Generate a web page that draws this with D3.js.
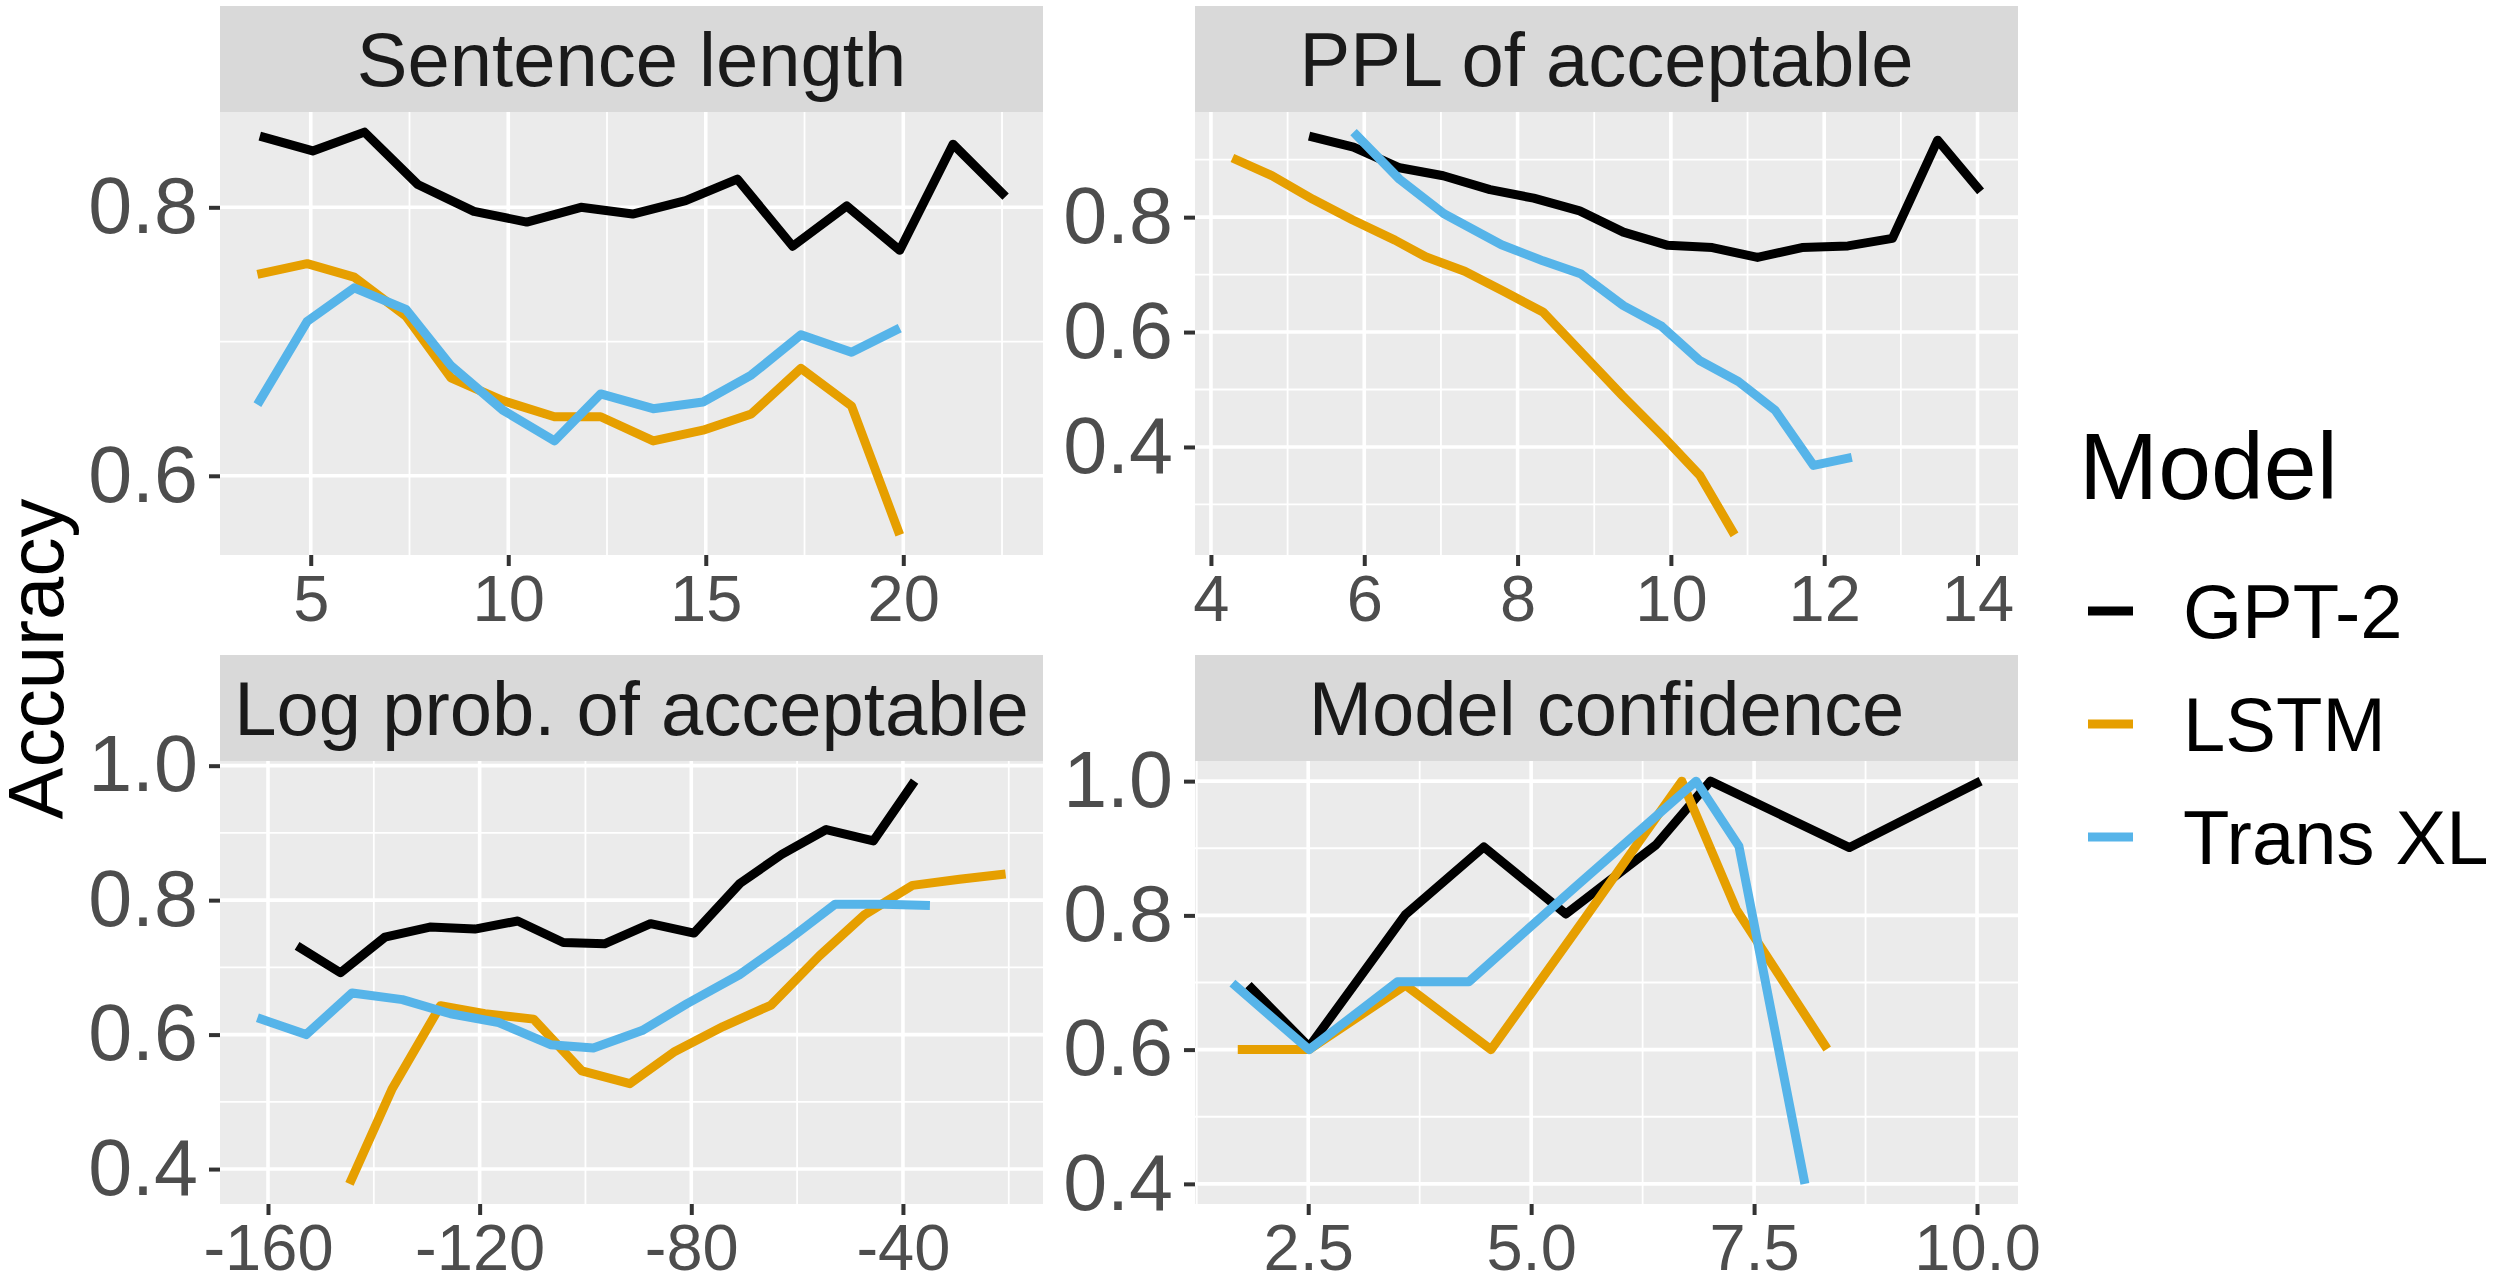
<!DOCTYPE html>
<html><head><meta charset="utf-8">
<script src="https://cdn.jsdelivr.net/npm/d3@7"></script>
<style>body{margin:0;background:#fff;} svg{display:block;}</style>
</head><body><svg id="chart" width="2500" height="1278"></svg>
<script>
// ---------- data ----------
const modelNames = ["GPT-2", "LSTM", "Trans XL"];
const panelTitles = ["Sentence length", "PPL of acceptable", "Log prob. of acceptable", "Model confidence"];

const sentGptX = [3.71,5.05,6.36,7.71,9.13,10.47,11.84,13.15,14.49,15.80,17.20,18.57,19.91,21.26,22.59];
const sentGptY = [0.853,0.842,0.856,0.817,0.797,0.789,0.800,0.795,0.805,0.821,0.771,0.801,0.768,0.847,0.808];
const sentLstmX = [3.65,4.91,6.10,7.41,8.55,9.86,11.17,12.34,13.67,14.93,16.15,17.41,18.69,19.91];
const sentLstmY = [0.750,0.758,0.748,0.719,0.673,0.656,0.644,0.644,0.626,0.634,0.646,0.680,0.652,0.556];
const sentTxlX = [3.65,4.91,6.10,7.41,8.55,9.86,11.17,12.34,13.67,14.93,16.15,17.41,18.69,19.91];
const sentTxlY = [0.653,0.715,0.740,0.724,0.682,0.649,0.626,0.661,0.650,0.655,0.675,0.705,0.692,0.710];

const pplGptX = [5.28,5.86,6.46,7.03,7.64,8.21,8.81,9.38,9.96,10.54,11.13,11.71,12.31,12.89,13.48,14.04];
const pplGptY = [0.941,0.922,0.886,0.872,0.848,0.833,0.811,0.774,0.751,0.747,0.730,0.747,0.750,0.763,0.934,0.845];
const pplLstmX = [4.28,4.80,5.33,5.85,6.40,6.80,7.31,7.83,8.33,8.85,9.37,9.90,10.38,10.83];
const pplLstmY = [0.903,0.872,0.831,0.795,0.760,0.731,0.706,0.670,0.635,0.562,0.489,0.418,0.350,0.247];
const pplTxlX = [5.86,6.46,7.04,7.79,8.33,8.83,9.38,9.88,10.38,10.88,11.36,11.86,12.36];
const pplTxlY = [0.948,0.866,0.806,0.752,0.724,0.701,0.646,0.610,0.550,0.514,0.464,0.368,0.382];

const logGptX = [-154.5,-146.3,-137.9,-129.4,-120.9,-112.8,-104.2,-96.4,-87.7,-79.5,-70.8,-62.9,-54.5,-45.6,-37.8];
const logGptY = [0.732,0.692,0.745,0.760,0.757,0.769,0.737,0.735,0.765,0.751,0.825,0.868,0.905,0.888,0.977];
const logLstmX = [-144.6,-136.5,-127.4,-119.0,-109.8,-100.7,-91.6,-83.1,-74.0,-64.9,-55.8,-47.3,-38.2,-29.3,-20.6];
const logLstmY = [0.378,0.520,0.643,0.631,0.623,0.546,0.527,0.575,0.612,0.644,0.717,0.778,0.822,0.831,0.839];
const logTxlX = [-162.0,-152.8,-144.1,-134.6,-125.5,-116.4,-106.6,-98.5,-89.3,-80.8,-70.9,-61.8,-52.8,-43.6,-34.9];
const logTxlY = [0.625,0.600,0.662,0.652,0.631,0.618,0.585,0.580,0.606,0.646,0.689,0.740,0.794,0.794,0.792];

const confGptX = [1.83,2.51,3.59,4.47,5.39,6.40,7.01,8.57,10.04];
const confGptY = [0.696,0.604,0.801,0.902,0.802,0.905,1.000,0.901,1.000];
const confLstmX = [1.71,2.51,3.59,4.55,5.60,6.69,7.30,8.32];
const confLstmY = [0.600,0.600,0.696,0.600,0.795,1.000,0.809,0.601];
const confTxlX = [1.65,2.51,3.50,4.30,5.50,6.85,7.33,8.07];
const confTxlY = [0.699,0.600,0.701,0.701,0.843,1.000,0.903,0.400];

const sentXTicks = [5, 10, 15, 20];
const pplXTicks = [4, 6, 8, 10, 12, 14];
const logXTicks = [-160, -120, -80, -40];
const confXTicks = [2.5, 5.0, 7.5, 10.0];
const sentYTicks = [0.6, 0.8];
const pplYTicks = [0.4, 0.6, 0.8];
const logYTicks = [0.4, 0.6, 0.8, 1.0];
const confYTicks = [0.4, 0.6, 0.8, 1.0];

// ---------- build ----------
const colors = {"GPT-2": "#000000", "LSTM": "#E69F00", "Trans XL": "#56B4E9"};
const zip = (xs, ys) => xs.map((x, i) => ({x: x, y: ys[i]}));
const panels = [
  {title: panelTitles[0], xt: sentXTicks, yt: sentYTicks, xf: d => String(d), series: [zip(sentGptX, sentGptY), zip(sentLstmX, sentLstmY), zip(sentTxlX, sentTxlY)]},
  {title: panelTitles[1], xt: pplXTicks, yt: pplYTicks, xf: d => String(d), series: [zip(pplGptX, pplGptY), zip(pplLstmX, pplLstmY), zip(pplTxlX, pplTxlY)]},
  {title: panelTitles[2], xt: logXTicks, yt: logYTicks, xf: d => String(d), series: [zip(logGptX, logGptY), zip(logLstmX, logLstmY), zip(logTxlX, logTxlY)]},
  {title: panelTitles[3], xt: confXTicks, yt: confYTicks, xf: d => d.toFixed(1), series: [zip(confGptX, confGptY), zip(confLstmX, confLstmY), zip(confTxlX, confTxlY)]}
];

const svg = d3.select("#chart");
const FONT = "'Liberation Sans', Arimo, Arial, Helvetica, sans-serif";
const colX = [220, 1195], panelW = 823;
const rowY = [6, 655], stripH = 106, plotH = 443;

function expand(ext) { const r = ext[1] - ext[0]; return [ext[0] - 0.05 * r, ext[1] + 0.05 * r]; }
function minors(ticks, dom) {
  const step = ticks.length > 1 ? ticks[1] - ticks[0] : 1;
  const out = [];
  for (let i = -1; i < ticks.length; i++) {
    const m = (i < 0 ? ticks[0] - step : ticks[i]) + step / 2;
    if (m > dom[0] && m < dom[1]) out.push(m);
  }
  return out;
}

panels.forEach((p, i) => {
  const x0 = colX[i % 2], sTop = rowY[Math.floor(i / 2)];
  const pTop = sTop + stripH, pBot = pTop + plotH;
  const all = p.series.flat();
  const xd = expand(d3.extent(all, d => d.x));
  const yd = expand(d3.extent(all, d => d.y));
  const xs = d3.scaleLinear().domain(xd).range([x0, x0 + panelW]);
  const ys = d3.scaleLinear().domain(yd).range([pBot, pTop]);
  const g = svg.append("g");

  // strip
  g.append("rect").attr("x", x0).attr("y", sTop).attr("width", panelW).attr("height", stripH).attr("fill", "#D9D9D9");
  g.append("text").attr("x", x0 + panelW / 2).attr("y", sTop + stripH / 2 + 0.358 * 76)
    .attr("text-anchor", "middle").attr("font-family", FONT).attr("font-size", 76).attr("fill", "#1A1A1A").text(p.title);

  // panel background
  g.append("rect").attr("x", x0).attr("y", pTop).attr("width", panelW).attr("height", plotH).attr("fill", "#EBEBEB");

  // grid
  const grid = g.append("g").attr("stroke", "#FFFFFF");
  minors(p.xt, xd).forEach(v => grid.append("line").attr("x1", xs(v)).attr("x2", xs(v)).attr("y1", pTop).attr("y2", pBot).attr("stroke-width", 1.8));
  minors(p.yt, yd).forEach(v => grid.append("line").attr("y1", ys(v)).attr("y2", ys(v)).attr("x1", x0).attr("x2", x0 + panelW).attr("stroke-width", 1.8));
  p.xt.forEach(v => grid.append("line").attr("x1", xs(v)).attr("x2", xs(v)).attr("y1", pTop).attr("y2", pBot).attr("stroke-width", 3.6));
  p.yt.forEach(v => grid.append("line").attr("y1", ys(v)).attr("y2", ys(v)).attr("x1", x0).attr("x2", x0 + panelW).attr("stroke-width", 3.6));

  // lines
  const line = d3.line().x(d => xs(d.x)).y(d => ys(d.y));
  p.series.forEach((s, k) => {
    g.append("path").datum(s).attr("d", line).attr("fill", "none")
      .attr("stroke", colors[modelNames[k]]).attr("stroke-width", 9)
      .attr("stroke-linejoin", "round").attr("stroke-linecap", "butt");
  });

  // axes
  const ax = g.append("g").attr("transform", `translate(0,${pBot})`)
    .call(d3.axisBottom(xs).tickValues(p.xt).tickFormat(p.xf).tickSize(11).tickPadding(9));
  const ay = g.append("g").attr("transform", `translate(${x0},0)`)
    .call(d3.axisLeft(ys).tickValues(p.yt).tickFormat(d3.format(".1f")).tickSize(11).tickPadding(11));
  [ax, ay].forEach(a => {
    a.select(".domain").remove();
    a.selectAll(".tick line").attr("stroke", "#333333").attr("stroke-width", 4);
    a.selectAll(".tick text").attr("fill", "#4D4D4D").attr("font-family", FONT);
  });
  ax.selectAll(".tick text").attr("font-size", 65);
  ay.selectAll(".tick text").attr("font-size", 79);
});

// y-axis title
svg.append("text").attr("transform", "translate(63,659) rotate(-90)")
  .attr("text-anchor", "middle").attr("font-family", FONT).attr("font-size", 78).attr("fill", "#000").text("Accuracy");

// legend
const lg = svg.append("g");
lg.append("text").attr("x", 2079).attr("y", 499).attr("font-family", FONT).attr("font-size", 95).attr("fill", "#000").text("Model");
const keyY = [611, 724, 837];
modelNames.forEach((m, k) => {
  lg.append("line").attr("x1", 2088).attr("x2", 2133).attr("y1", keyY[k]).attr("y2", keyY[k])
    .attr("stroke", colors[m]).attr("stroke-width", 9);
  lg.append("text").attr("x", 2183).attr("y", keyY[k] + 0.358 * 76).attr("font-family", FONT)
    .attr("font-size", 76).attr("fill", "#000").text(m);
});
</script>
</body></html>
